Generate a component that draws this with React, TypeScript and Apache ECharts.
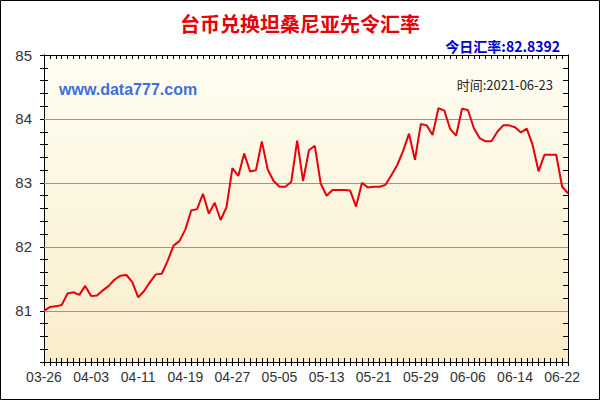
import React, { useEffect, useRef } from "react";
import * as echarts from "echarts";

const titleText = "台币兑换坦桑尼亚先令汇率";
const todayRate = "今日汇率:82.8392";
const siteText = "www.data777.com";
const timeText = "时间:2021-06-23";

const startDate = "2021-03-26";
const dayCount = 90;

const rates = [
  81.0, 81.06, 81.07, 81.09, 81.27, 81.29, 81.25, 81.39, 81.23, 81.24,
  81.32, 81.39, 81.49, 81.55, 81.56, 81.45, 81.21, 81.31, 81.45, 81.57,
  81.58, 81.78, 82.02, 82.09, 82.27, 82.57, 82.59, 82.83, 82.52, 82.69,
  82.42, 82.62, 83.23, 83.11, 83.46, 83.18, 83.2, 83.65, 83.21, 83.03,
  82.94, 82.94, 83.02, 83.66, 83.03, 83.51, 83.58, 82.99, 82.8, 82.89,
  82.89, 82.89, 82.88, 82.63, 83.0, 82.93, 82.94, 82.94, 82.97, 83.12,
  83.28, 83.5, 83.77, 83.36, 83.92, 83.9, 83.75, 84.17, 84.13, 83.84,
  83.74, 84.16, 84.14, 83.86, 83.7, 83.65, 83.65, 83.8, 83.9, 83.9,
  83.87, 83.79, 83.85, 83.59, 83.18, 83.44, 83.44, 83.44, 82.94, 82.8392,
];

const gridLines = [81, 82, 83, 84];
const yMin = 80.2;
const yMax = 85;

function buildDates(): string[] {
  const out: string[] = [];
  const d0 = new Date(startDate + "T00:00:00Z");
  for (let i = 0; i < dayCount; i++) {
    const d = new Date(d0.getTime() + i * 86400000);
    const m = String(d.getUTCMonth() + 1).padStart(2, "0");
    const dd = String(d.getUTCDate()).padStart(2, "0");
    out.push(m + "-" + dd);
  }
  return out;
}

export default function App() {
  const ref = useRef<HTMLDivElement>(null);
  useEffect(() => {
    if (!ref.current) return;
    const chart = echarts.init(ref.current, undefined, { renderer: "svg" });
    const dates = buildDates();
    const latin = "'Liberation Sans', Arial, sans-serif";
    const cjk = "'Noto Sans CJK SC', sans-serif";
    const intLabel = (v: number) =>
      Math.abs(v - Math.round(v)) < 1e-6 ? String(Math.round(v)) : "";
    const axisLine = { show: true, lineStyle: { color: "#000", width: 1 } };
    chart.setOption({
      animation: false,
      backgroundColor: "#fff",
      title: [
        {
          text: titleText,
          left: "center",
          top: 8,
          textStyle: { color: "#E8000B", fontSize: 20, fontWeight: "bold", fontFamily: cjk },
        },
        {
          text: todayRate,
          right: 35,
          top: 34,
          textStyle: { color: "#0000CC", fontSize: 14, fontWeight: "bold", fontFamily: cjk },
        },
        {
          text: siteText,
          left: 54,
          top: 76,
          textStyle: { color: "#3F6FD8", fontSize: 16, fontWeight: "bold", fontFamily: latin },
        },
        {
          text: timeText,
          right: 42,
          top: 73,
          textStyle: { color: "#222", fontSize: 13, fontWeight: "normal", fontFamily: cjk },
        },
      ],
      grid: {
        left: 44,
        right: 32,
        top: 55,
        bottom: 38,
        show: true,
        borderWidth: 0,
        backgroundColor: new echarts.graphic.LinearGradient(0, 0, 0, 1, [
          { offset: 0, color: "#FFFEF4" },
          { offset: 1, color: "#F9EDC9" },
        ]),
      },
      xAxis: [
        {
          type: "category",
          data: dates,
          boundaryGap: false,
          position: "bottom",
          axisLine,
          axisTick: { show: true, interval: 0, length: 4, lineStyle: { color: "#000" } },
          axisLabel: { interval: 7, color: "#333", fontSize: 14, fontFamily: latin, margin: 8 },
          splitLine: { show: false },
        },
        {
          type: "category",
          data: dates,
          boundaryGap: false,
          position: "bottom",
          axisLine,
          axisTick: { show: true, inside: true, interval: 0, length: 4, lineStyle: { color: "#000" } },
          axisLabel: { show: false },
          splitLine: { show: false },
        },
        {
          type: "category",
          data: dates,
          boundaryGap: false,
          position: "top",
          axisLine,
          axisTick: { show: true, inside: true, interval: 0, length: 4, lineStyle: { color: "#000" } },
          axisLabel: { show: false },
          splitLine: { show: false },
        },
      ],
      yAxis: [
        {
          type: "value",
          min: yMin,
          max: yMax,
          interval: 0.2,
          position: "left",
          axisLine,
          axisTick: { show: true, length: 4, lineStyle: { color: "#000" } },
          axisLabel: { formatter: intLabel, color: "#333", fontSize: 15, fontFamily: latin, margin: 12 },
          splitLine: { show: false },
        },
        {
          type: "value",
          min: yMin,
          max: yMax,
          interval: 0.2,
          position: "left",
          axisLine,
          axisTick: { show: true, inside: true, length: 4, lineStyle: { color: "#000" } },
          axisLabel: { show: false },
          splitLine: { show: false },
        },
        {
          type: "value",
          min: yMin,
          max: yMax,
          interval: 0.2,
          position: "right",
          axisLine,
          axisTick: { show: true, inside: true, length: 5, lineStyle: { color: "#000" } },
          axisLabel: { show: false },
          splitLine: { show: false },
        },
      ],
      series: [
        {
          type: "line",
          data: rates,
          xAxisIndex: 0,
          yAxisIndex: 0,
          showSymbol: false,
          symbol: "none",
          lineStyle: { color: "#E8000B", width: 2 },
          z: 3,
          markLine: {
            silent: true,
            symbol: "none",
            label: { show: false },
            lineStyle: { color: "#B8963C", width: 1, type: "solid" },
            data: gridLines.map((v) => ({ yAxis: v })),
            z: 1,
          },
        },
      ],
      graphic: [
        {
          type: "rect",
          shape: { x: 0.5, y: 0.5, width: 599, height: 399 },
          style: { fill: "none", stroke: "#000", lineWidth: 1 },
          silent: true,
        },
      ],
    });
    return () => chart.dispose();
  }, []);
  return (
    <div
      ref={ref}
      style={{ position: "fixed", left: 0, top: 0, width: 600, height: 400 }}
    />
  );
}
